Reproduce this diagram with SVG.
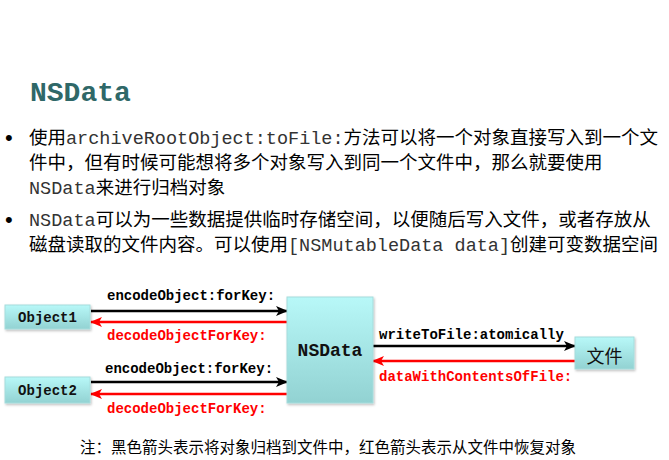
<svg xmlns="http://www.w3.org/2000/svg" width="669" height="460" viewBox="0 0 669 460">
<defs>
<linearGradient id="g" x1="0" y1="0" x2="0" y2="1">
<stop offset="0" stop-color="#b8f8f8"/>
<stop offset="1" stop-color="#92d2d2"/>
</linearGradient>
<filter id="sh" x="-10%" y="-10%" width="130%" height="130%">
<feDropShadow dx="1" dy="1.5" stdDeviation="1.2" flood-color="#000" flood-opacity="0.25"/>
</filter>
<marker id="ab" viewBox="0 0 12 10" refX="11" refY="5" markerWidth="12" markerHeight="10" markerUnits="userSpaceOnUse" orient="auto">
<path d="M0,0 L12,5 L0,10 L3,5 z" fill="#000"/>
</marker>
<marker id="ar" viewBox="0 0 12 10" refX="11" refY="5" markerWidth="12" markerHeight="10" markerUnits="userSpaceOnUse" orient="auto">
<path d="M0,0 L12,5 L0,10 L3,5 z" fill="#f00"/>
</marker>
</defs>
<style>
.box{fill:url(#g);stroke:#a6dcdc;stroke-width:1;filter:url(#sh)}
.nl{font-family:"Liberation Mono","Courier New",monospace;font-weight:bold;fill:#111}
.lb{font-family:"Liberation Mono","Courier New",monospace;font-weight:bold;font-size:14px}
.blk{stroke:#000;stroke-width:2.5;fill:none;marker-end:url(#ab)}
.red{stroke:#f00;stroke-width:2.5;fill:none;marker-end:url(#ar)}
.body{font-family:"Noto Sans CJK SC","Liberation Sans",sans-serif;font-size:18.5px;fill:#000}
.m{font-family:"Liberation Mono","Courier New",monospace;fill:#333}
.bul{font-family:"Liberation Sans",sans-serif;font-size:22px;fill:#000}
</style>
<rect width="669" height="460" fill="#fff"/>
<text x="30" y="101" font-family="Liberation Mono, Courier New, monospace" font-weight="bold" font-size="28" fill="#2f6868">NSData</text>
<text class="bul" x="5" y="145">•</text>
<text class="bul" x="5" y="227">•</text>
<g class="body">
<text x="29" y="144">使用<tspan class="m">archiveRootObject:toFile:</tspan>方法可以将一个对象直接写入到一个文</text>
<text x="29" y="169">件中，但有时候可能想将多个对象写入到同一个文件中，那么就要使用</text>
<text x="29" y="194"><tspan class="m">NSData</tspan>来进行归档对象</text>
<text x="29" y="226"><tspan class="m">NSData</tspan>可以为一些数据提供临时存储空间，以便随后写入文件，或者存放从</text>
<text x="29" y="251">磁盘读取的文件内容。可以使用<tspan class="m">[NSMutableData data]</tspan>创建可变数据空间</text>
</g>
<g id="connectors">
<line class="blk" x1="91" y1="311" x2="287" y2="311"/>
<line class="red" x1="287" y1="322" x2="91" y2="322"/>
<line class="blk" x1="91" y1="382" x2="287" y2="382"/>
<line class="red" x1="287" y1="394" x2="91" y2="394"/>
<line class="blk" x1="373" y1="346" x2="575" y2="346"/>
<line class="red" x1="575" y1="361" x2="373" y2="361"/>
<text class="lb" x="107" y="300" fill="#000">encodeObject:forKey:</text>
<text class="lb" x="107" y="340" fill="#f00">decodeObjectForKey:</text>
<text class="lb" x="105" y="373" fill="#000">encodeObject:forKey:</text>
<text class="lb" x="107" y="413" fill="#f00">decodeObjectForKey:</text>
<text class="lb" x="379" y="339" fill="#000">writeToFile:atomically</text>
<text class="lb" x="379" y="381" fill="#f00">dataWithContentsOfFile:</text>
</g>
<g id="object1">
<rect class="box" x="5" y="305" width="85" height="24"/>
<text class="nl" x="47.5" y="322" font-size="14" text-anchor="middle">Object1</text>
</g>
<g id="object2">
<rect class="box" x="5" y="377" width="85" height="26"/>
<text class="nl" x="47.5" y="395" font-size="14" text-anchor="middle">Object2</text>
</g>
<g id="nsdata">
<rect class="box" x="287" y="297" width="86" height="106"/>
<text class="nl" x="330" y="356" font-size="18" text-anchor="middle">NSData</text>
</g>
<g id="file">
<rect class="box" x="575" y="337" width="59" height="32"/>
<text x="604.5" y="363" font-family="Noto Sans CJK SC, sans-serif" font-size="18" text-anchor="middle" fill="#111">文件</text>
</g>
<text x="80" y="453" font-family="Noto Sans CJK SC, Liberation Sans, sans-serif" font-size="15.5" fill="#000">注：黑色箭头表示将对象归档到文件中，红色箭头表示从文件中恢复对象</text>
</svg>
